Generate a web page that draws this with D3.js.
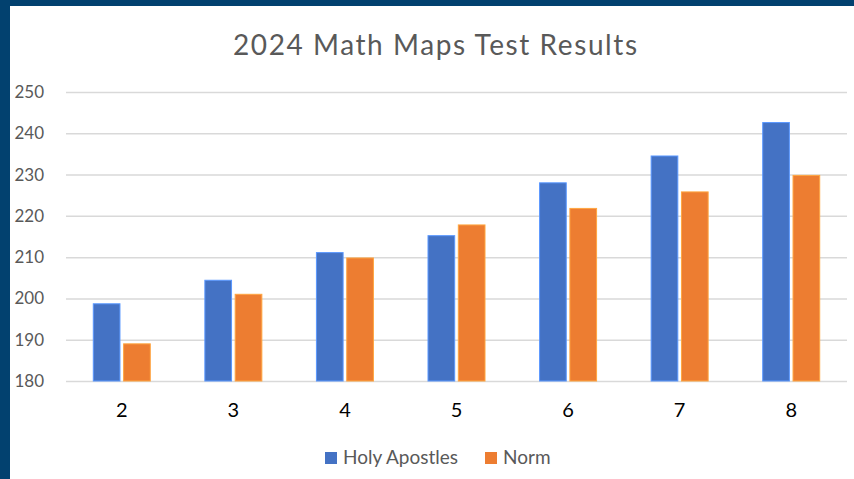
<!DOCTYPE html>
<html>
<head>
<meta charset="utf-8">
<script src="https://cdn.jsdelivr.net/npm/d3@7"></script>
<style>
  body { margin: 0; background: #fff; }
  svg { display: block; }
</style>
</head>
<body>
<svg id="chart" width="854" height="479"></svg>
<script>
// grades on x axis
let grades = ['2', '3', '4', '5', '6', '7', '8']
let holyApostles = [198.7, 204.4, 211.1, 215.2, 228, 234.5, 242.6]
let norm = [189, 201, 209.8, 217.8, 221.8, 225.8, 229.8]
let seriesNames = ['Holy Apostles', 'Norm']
let seriesColors = ['#4472C4', '#ED7D31']
let yTicks = [180, 190, 200, 210, 220, 230, 240, 250]

let width = 854
let height = 479
let svg = d3.select('#chart')

// dark frame on top & left
svg.append('rect').attr('x', 0).attr('y', 0).attr('width', width).attr('height', 6).attr('fill', '#02416F')
svg.append('rect').attr('x', 0).attr('y', 0).attr('width', 10).attr('height', height).attr('fill', '#02416F')

let plotLeft = 66, plotRight = 847, plotTop = 92, plotBottom = 381

let x = d3.scaleBand().domain(grades).range([plotLeft, plotRight])
let x1 = d3.scaleBand().domain(seriesNames).range([0, 57]).paddingInner(0.12)
let y = d3.scaleLinear().domain([180, 250]).range([plotBottom, plotTop])

svg.append('text')
  .attr('x', 435).attr('y', 55)
  .attr('text-anchor', 'middle')
  .attr('textLength', 404)
  .attr('lengthAdjust', 'spacing')
  .style('font-family', 'Lato, "Open Sans", sans-serif')
  .style('font-size', '28px')
  .attr('fill', '#595959')
  .text('2024 Math Maps Test Results')

// gridlines
let yAxis = d3.axisLeft(y).tickValues(yTicks).tickSize(-(plotRight - plotLeft)).tickFormat(d3.format('d'))
let gy = svg.append('g').attr('transform', 'translate(' + plotLeft + ',0)').call(yAxis)
gy.select('.domain').remove()
gy.selectAll('.tick line').attr('stroke', '#d9d9d9').attr('stroke-width', 1.5)
gy.selectAll('.tick text')
  .attr('x', -22)
  .attr('fill', '#595959')
  .style('font-family', 'Lato, "Open Sans", sans-serif')
  .style('font-size', '17px')

// bars
let data = grades.map((g, i) => ({ grade: g, vals: [holyApostles[i], norm[i]] }))
let groups = svg.append('g').selectAll('g')
  .data(data)
  .enter().append('g')
  .attr('transform', d => 'translate(' + (x(d.grade) + x.bandwidth() / 2 - 28.5) + ',0)')
groups.selectAll('rect')
  .data(d => d.vals.map((v, j) => ({ name: seriesNames[j], v: v, c: seriesColors[j] })))
  .enter().append('rect')
  .attr('x', d => x1(d.name))
  .attr('width', x1.bandwidth())
  .attr('y', d => y(d.v))
  .attr('height', d => y(180) - y(d.v))
  .attr('fill', d => d.c)
  .attr('stroke', d => d3.color(d.c).brighter(0.8))
  .attr('stroke-width', 1)

// x labels
let gx = svg.append('g').attr('transform', 'translate(0,' + plotBottom + ')')
  .call(d3.axisBottom(x).tickSize(0).tickPadding(22))
gx.select('.domain').remove()
gx.selectAll('.tick text')
  .attr('fill', '#000')
  .style('font-family', 'Lato, "Open Sans", sans-serif')
  .style('font-size', '20px')

// legend
let legendX = [325, 485]
let lg = svg.append('g').selectAll('g')
  .data(seriesNames)
  .enter().append('g')
  .attr('transform', (d, i) => 'translate(' + legendX[i] + ',452)')
lg.append('rect').attr('width', 12).attr('height', 12).attr('fill', (d, i) => seriesColors[i])
lg.append('text')
  .attr('x', 18).attr('y', 12)
  .attr('fill', '#595959')
  .style('font-family', 'Lato, "Open Sans", sans-serif')
  .style('font-size', '19px')
  .text(d => d)
</script>
</body>
</html>
